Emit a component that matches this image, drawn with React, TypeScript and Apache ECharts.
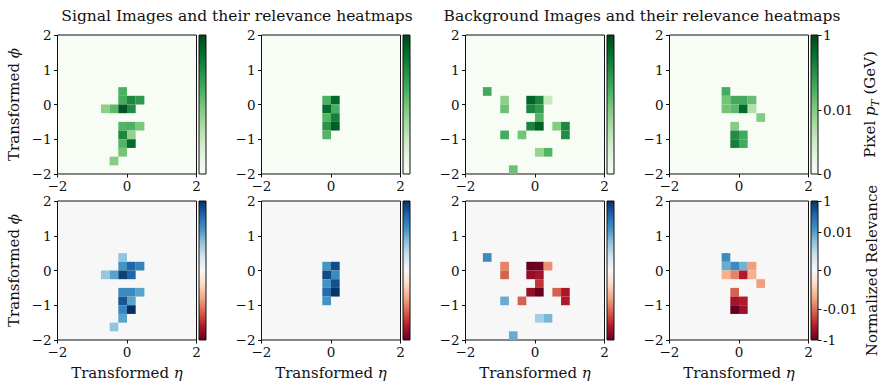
import React, { useEffect, useRef } from 'react';
import * as echarts from 'echarts';

// ---------- colour maps (matplotlib Greens / RdBu) ----------
const GREENS = ['#f7fcf5', '#e5f5e0', '#c7e9c0', '#a1d99b', '#74c476', '#41ab5d', '#238b45', '#006d2c', '#00441b'];
const RDBU = ['#67001f', '#b2182b', '#d6604d', '#f4a582', '#fddbc7', '#f7f7f7', '#d1e5f0', '#92c5de', '#4393c3', '#2166ac', '#053061'];

// ---------- titles / labels ----------
const TITLES = ['Signal Images and their relevance heatmaps', 'Background Images and their relevance heatmaps'];
const PT_TICKS = [0, 0.01, 1];
const PT_TICK_LABELS = ['0', '0.01', '1'];
const REL_TICKS = [-1, -0.01, 0, 0.01, 1];
const REL_TICK_LABELS = ['-1', '-0.01', '0', '0.01', '1'];

// ---------- data: [eta, phi, value] (cell centres, cell size 0.25) ----------
const signalPt1 = [
  [-0.125, 0.375, 0.033],
  [-0.125, 0.125, 0.039], [0.125, 0.125, 0.14], [0.375, 0.125, 0.077],
  [-0.625, -0.125, 0.0093], [-0.375, -0.125, 0.023], [-0.125, -0.125, 0.65], [0.125, -0.125, 0.12],
  [-0.125, -0.625, 0.028], [0.125, -0.625, 0.033], [0.375, -0.625, 0.012],
  [-0.125, -0.875, 0.14], [0.125, -0.875, 0.0091],
  [-0.125, -1.125, 0.028], [0.125, -1.125, 0.36],
  [-0.125, -1.375, 0.014],
  [-0.375, -1.625, 0.0098],
];
const signalPt2 = [
  [-0.125, 0.125, 0.033], [0.125, 0.125, 0.36],
  [-0.125, -0.125, 0.33], [0.125, -0.125, 0.036],
  [-0.125, -0.375, 0.028], [0.125, -0.375, 0.18],
  [-0.125, -0.625, 0.092], [0.125, -0.625, 0.5],
  [-0.125, -0.875, 0.028],
];
const backgroundPt1 = [
  [-1.375, 0.375, 0.043],
  [-0.875, 0.125, 0.0093], [-0.125, 0.125, 0.42], [0.125, 0.125, 0.15], [0.375, 0.125, 0.0054],
  [-0.875, -0.125, 0.017], [-0.125, -0.125, 0.15], [0.125, -0.125, 0.071],
  [0.125, -0.375, 0.028],
  [-0.125, -0.625, 0.15], [0.125, -0.625, 0.5], [0.625, -0.625, 0.01], [0.875, -0.625, 0.14],
  [-0.875, -0.875, 0.039], [-0.375, -0.875, 0.014], [0.875, -0.875, 0.12],
  [0.125, -1.375, 0.0089], [0.375, -1.375, 0.028],
  [-0.625, -1.875, 0.017],
];
const backgroundPt2 = [
  [-0.375, 0.375, 0.039],
  [-0.375, 0.125, 0.014], [-0.125, 0.125, 0.043], [0.125, 0.125, 0.043], [0.375, 0.125, 0.018],
  [-0.375, -0.125, 0.014], [-0.125, -0.125, 0.023], [0.125, -0.125, 0.36], [0.375, -0.125, 0.007],
  [0.625, -0.375, 0.01],
  [-0.125, -0.625, 0.0098],
  [-0.125, -0.875, 0.12], [0.125, -0.875, 0.043],
  [-0.125, -1.125, 0.18], [0.125, -1.125, 0.043],
];
const signalRel1 = [
  [-0.125, 0.375, 0.0072],
  [-0.125, 0.125, 0.016], [0.125, 0.125, 0.13], [0.375, 0.125, 0.037],
  [-0.625, -0.125, 0.007], [-0.375, -0.125, 0.0098], [-0.125, -0.125, 0.54], [0.125, -0.125, 0.13],
  [-0.125, -0.625, 0.025], [0.125, -0.625, 0.025], [0.375, -0.625, 0.0098],
  [-0.125, -0.875, 0.24], [0.125, -0.875, 0.0098],
  [-0.125, -1.125, 0.03], [0.125, -1.125, 1.0],
  [-0.125, -1.375, 0.0098],
  [-0.375, -1.625, 0.0072],
];
const signalRel2 = [
  [-0.125, 0.125, 0.016], [0.125, 0.125, 0.36],
  [-0.125, -0.125, 0.36], [0.125, -0.125, 0.025],
  [-0.125, -0.375, 0.016], [0.125, -0.375, 0.29],
  [-0.125, -0.625, 0.1], [0.125, -0.625, 0.81],
  [-0.125, -0.875, 0.016],
];
const backgroundRel1 = [
  [-1.375, 0.375, 0.025],
  [-0.875, 0.125, -0.0091], [-0.125, 0.125, -1.0], [0.125, 0.125, -0.81], [0.375, 0.125, -0.0083],
  [-0.875, -0.125, -0.016], [-0.125, -0.125, -0.29], [0.125, -0.125, -0.19],
  [0.125, -0.375, -0.056],
  [-0.125, -0.625, -0.29], [0.125, -0.625, -1.0], [0.625, -0.625, -0.016], [0.875, -0.625, -0.157],
  [-0.875, -0.875, 0.0091], [-0.375, -0.875, -0.016], [0.875, -0.875, -0.128],
  [0.125, -1.375, 0.0062], [0.375, -1.375, 0.0083],
  [-0.625, -1.875, 0.0091],
];
const backgroundRel2 = [
  [-0.375, 0.375, 0.025],
  [-0.375, 0.125, 0.0091], [-0.125, 0.125, 0.025], [0.125, 0.125, 0.0087], [0.375, 0.125, -0.0076],
  [-0.375, -0.125, -0.0065], [-0.125, -0.125, -0.0091], [0.125, -0.125, -0.128], [0.375, -0.125, -0.0065],
  [0.625, -0.375, -0.0076],
  [-0.125, -0.625, -0.016],
  [-0.125, -0.875, -0.19], [0.125, -0.875, -0.128],
  [-0.125, -1.125, -1.0], [0.125, -1.125, -0.24],
];

const PT_PANELS = [signalPt1, signalPt2, backgroundPt1, backgroundPt2];
const REL_PANELS = [signalRel1, signalRel2, backgroundRel1, backgroundRel2];

// ---------- symlog-like colour scale positions ----------
const ptPos = (v: number) => (v <= 0.01 ? (0.46 * v) / 0.01 : 0.46 + (0.54 * Math.log10(v / 0.01)) / 2);
const relPos = (v: number) => {
  const a = Math.abs(v);
  const u = a <= 0.01 ? (0.552 * a) / 0.01 : 0.552 + (0.448 * Math.log10(a / 0.01)) / 2;
  return 0.5 + 0.5 * Math.sign(v) * u;
};

// ---------- layout ----------
const FONT = 'DejaVu Serif';
const INK = '#111';
const PANEL_LEFT = [57.5, 261.5, 465.5, 669.5];
const ROW_TOP = [35, 201];
const SIZE = 139;
const CB_OFFSET = 141.5;
const CB_W = 7;
const HALF = 0.125;
const TICK_FS = 13.5;

const minusFmt = (v: number) => (v < 0 ? '\u2212' + Math.abs(v) : String(v));

function gradient(colors: string[]) {
  const rev = colors.slice().reverse();
  return new echarts.graphic.LinearGradient(
    0, 0, 0, 1,
    rev.map((c, i) => ({ offset: i / (rev.length - 1), color: c }))
  );
}

function buildOption() {
  const grids: any[] = [];
  const xAxes: any[] = [];
  const yAxes: any[] = [];
  const series: any[] = [];

  // main panels
  for (let r = 0; r < 2; r++) {
    for (let c = 0; c < 4; c++) {
      const i = r * 4 + c;
      grids.push({
        left: PANEL_LEFT[c], top: ROW_TOP[r], width: SIZE, height: SIZE,
        show: true, backgroundColor: r === 0 ? GREENS[0] : RDBU[5],
        borderColor: INK, borderWidth: 1, containLabel: false,
      });
      xAxes.push({
        gridIndex: i, type: 'value', min: -2, max: 2, interval: 2,
        axisLine: { show: false, onZero: false },
        splitLine: { show: false },
        axisTick: { show: true, length: 3.5, lineStyle: { color: INK, width: 1 } },
        axisLabel: { fontFamily: FONT, fontSize: TICK_FS, color: INK, margin: 5, formatter: minusFmt },
        name: r === 1 ? 'Transformed {i|η}' : '',
        nameLocation: 'middle', nameGap: 25,
        nameTextStyle: {
          fontFamily: FONT, fontSize: 15, color: INK,
          rich: { i: { fontFamily: FONT, fontSize: 15, fontStyle: 'italic', color: INK } },
        },
      });
      yAxes.push({
        gridIndex: i, type: 'value', min: -2, max: 2, interval: 1,
        axisLine: { show: false, onZero: false },
        splitLine: { show: false },
        axisTick: { show: true, length: 3.5, lineStyle: { color: INK, width: 1 } },
        axisLabel: { fontFamily: FONT, fontSize: TICK_FS, color: INK, margin: 6, formatter: minusFmt },
        name: c === 0 ? 'Transformed {i|ϕ}' : '',
        nameLocation: 'middle', nameRotate: 90, nameGap: 36,
        nameTextStyle: {
          fontFamily: FONT, fontSize: 15, color: INK,
          rich: { i: { fontFamily: FONT, fontSize: 15, fontStyle: 'italic', color: INK } },
        },
      });
      const src = r === 0 ? PT_PANELS[c] : REL_PANELS[c];
      const pos = r === 0 ? ptPos : relPos;
      series.push({
        type: 'custom',
        xAxisIndex: i, yAxisIndex: i,
        encode: { x: 0, y: 1 },
        data: src.map(([e, p, v]) => [e, p, v, pos(v)]),
        renderItem: (params: any, api: any) => {
          const e = api.value(0);
          const p = api.value(1);
          const a = api.coord([e - HALF, p + HALF]);
          const b = api.coord([e + HALF, p - HALF]);
          return {
            type: 'rect',
            shape: { x: a[0], y: a[1], width: b[0] - a[0], height: b[1] - a[1] },
            style: { fill: api.visual('color') },
          };
        },
      });
    }
  }

  // colour bars
  for (let r = 0; r < 2; r++) {
    for (let c = 0; c < 4; c++) {
      const i = 8 + r * 4 + c;
      grids.push({
        left: PANEL_LEFT[c] + CB_OFFSET, top: ROW_TOP[r], width: CB_W, height: SIZE,
        show: true, backgroundColor: gradient(r === 0 ? GREENS : RDBU),
        borderColor: INK, borderWidth: 1,
      });
      xAxes.push({ gridIndex: i, type: 'value', min: 0, max: 1, show: false });
      const last = c === 3;
      const ticks = r === 0 ? PT_TICKS : REL_TICKS;
      const tickLabels = r === 0 ? PT_TICK_LABELS : REL_TICK_LABELS;
      const tickPos = ticks.map(r === 0 ? ptPos : relPos);
      yAxes.push({
        gridIndex: i, type: 'value', min: 0, max: 1, position: 'right',
        show: last,
        axisLine: { show: false, onZero: false },
        splitLine: { show: false },
        axisTick: { show: true, length: 3.5, customValues: tickPos, lineStyle: { color: INK, width: 1 } },
        axisLabel: {
          show: true, customValues: tickPos, fontFamily: FONT, fontSize: TICK_FS, color: INK, margin: 5,
          formatter: (v: number) => {
            let best = 0;
            tickPos.forEach((t, k) => { if (Math.abs(t - v) < Math.abs(tickPos[best] - v)) best = k; });
            return tickLabels[best];
          },
        },
        name: last ? (r === 0 ? 'Pixel {i|p}{s|T} (GeV)' : 'Normalized Relevance') : '',
        nameLocation: 'middle', nameRotate: 90, nameGap: 42,
        nameTextStyle: {
          fontFamily: FONT, fontSize: 15, color: INK, lineHeight: 20,
          rich: {
            i: { fontFamily: FONT, fontSize: 15, fontStyle: 'italic', color: INK, lineHeight: 20 },
            s: { fontFamily: FONT, fontSize: 10.5, fontStyle: 'italic', color: INK, lineHeight: 12, verticalAlign: 'bottom' },
          },
        },
      });
    }
  }

  return {
    animation: false,
    backgroundColor: '#ffffff',
    title: [
      { text: TITLES[0], left: 232, top: 3, textAlign: 'center', textStyle: { fontFamily: FONT, fontSize: 15.5, fontWeight: 'normal', color: INK } },
      { text: TITLES[1], left: 637, top: 3, textAlign: 'center', textStyle: { fontFamily: FONT, fontSize: 15.5, fontWeight: 'normal', color: INK } },
    ],
    grid: grids,
    xAxis: xAxes,
    yAxis: yAxes,
    visualMap: [
      { type: 'continuous', show: false, seriesIndex: [0, 1, 2, 3], dimension: 3, min: 0, max: 1, inRange: { color: GREENS } },
      { type: 'continuous', show: false, seriesIndex: [4, 5, 6, 7], dimension: 3, min: 0, max: 1, inRange: { color: RDBU } },
    ],
    series,
  };
}

export default function App() {
  const ref = useRef<HTMLDivElement>(null);
  useEffect(() => {
    document.body.style.margin = '0';
    if (!ref.current) return;
    const chart = echarts.init(ref.current, undefined, { renderer: 'svg' });
    chart.setOption(buildOption() as any);
    return () => chart.dispose();
  }, []);
  return <div ref={ref} style={{ width: 886, height: 390 }} />;
}
